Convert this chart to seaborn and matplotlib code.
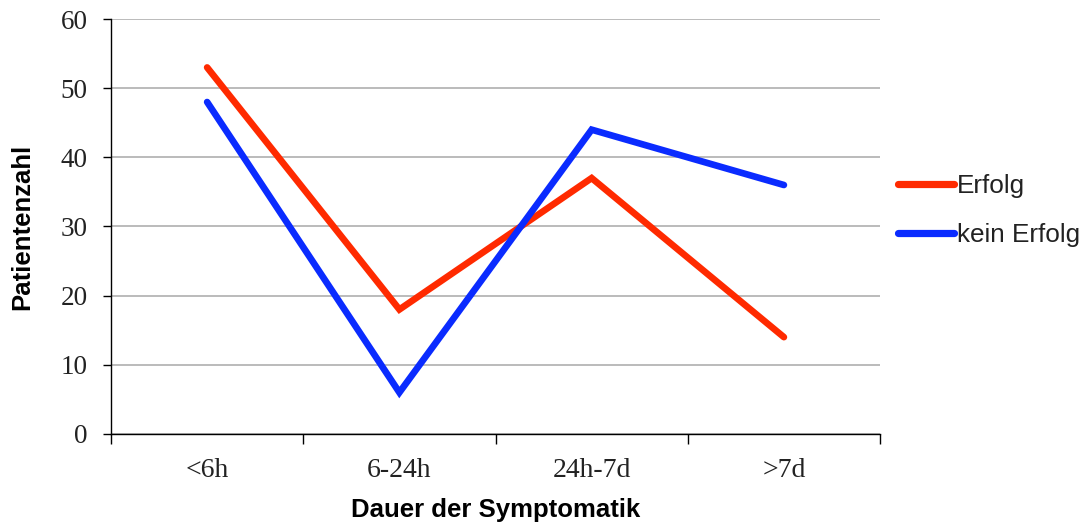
import matplotlib
matplotlib.use("Agg")
import matplotlib.pyplot as plt
import seaborn as sns
import pandas as pd
from matplotlib.ticker import FixedLocator

categories = ["<6h", "6-24h", "24h-7d", ">7d"]
erfolg = [53, 18, 37, 14]
kein_erfolg = [48, 6, 44, 36]
series_names = ["Erfolg", "kein Erfolg"]
y_ticks = [0, 10, 20, 30, 40, 50, 60]

df = pd.DataFrame({
    "Dauer": categories * 2,
    "Patientenzahl": erfolg + kein_erfolg,
    "Serie": [series_names[0]] * 4 + [series_names[1]] * 4,
})

sns.set_style("white")
fig = plt.figure(figsize=(10.85, 5.24), dpi=100)
ax = fig.add_axes([0.1023, 0.1718, 0.7088, 0.7919])

sns.lineplot(data=df, x="Dauer", y="Patientenzahl", hue="Serie", sort=False,
             palette={"Erfolg": "#FF2A00", "kein Erfolg": "#0A2BFF"},
             linewidth=4.8, ax=ax, legend=True, zorder=3)
for ln in ax.get_lines():
    ln.set_solid_capstyle("round")
    ln.set_solid_joinstyle("miter")

ax.set_xlim(-0.5, 3.5)
ax.set_ylim(0, 60)
ax.set_yticks(y_ticks)
ax.yaxis.grid(True, color="#A8A8A8", linewidth=1.1, zorder=0)
ax.xaxis.grid(False)
for s in ["top", "right"]:
    ax.spines[s].set_visible(False)
for s in ["left", "bottom"]:
    ax.spines[s].set_color("black")
    ax.spines[s].set_linewidth(1.0)

serif = ["Liberation Serif", "DejaVu Serif"]
sans = ["Liberation Sans", "DejaVu Sans"]
ax.set_xticks(range(len(categories)))
ax.set_xticklabels(categories, family=serif, fontsize=20, color="#222222")
ax.tick_params(axis="x", which="major", length=0, pad=17)
ax.xaxis.set_minor_locator(FixedLocator([-0.5, 0.5, 1.5, 2.5, 3.5]))
ax.tick_params(axis="x", which="minor", length=7, width=1, color="black", direction="out", bottom=True)
ax.tick_params(axis="y", length=6, width=1, color="black", direction="out", left=True, pad=11)
for t in ax.get_yticklabels():
    t.set_family(serif)
    t.set_fontsize(19.5)
    t.set_color("#222222")

ax.set_xlabel("Dauer der Symptomatik", family=sans, fontweight="bold", fontsize=18.5,
              labelpad=11, color="black")
ax.set_ylabel("Patientenzahl", family=sans, fontweight="bold", fontsize=18.5,
              labelpad=19, color="black")

handles, labels = ax.get_legend_handles_labels()
ax.get_legend().remove()
leg = fig.legend(handles, labels, loc="upper left", bbox_to_anchor=(0.806, 0.712),
                 frameon=False, handlelength=2.15, handletextpad=0.1, labelspacing=0.95,
                 prop={"family": sans, "size": 18.8})
for h in leg.get_lines():
    h.set_linewidth(5.2)
    h.set_solid_capstyle("round")
for t in leg.get_texts():
    t.set_color("#222222")

fig.savefig("out.png", dpi=100)
